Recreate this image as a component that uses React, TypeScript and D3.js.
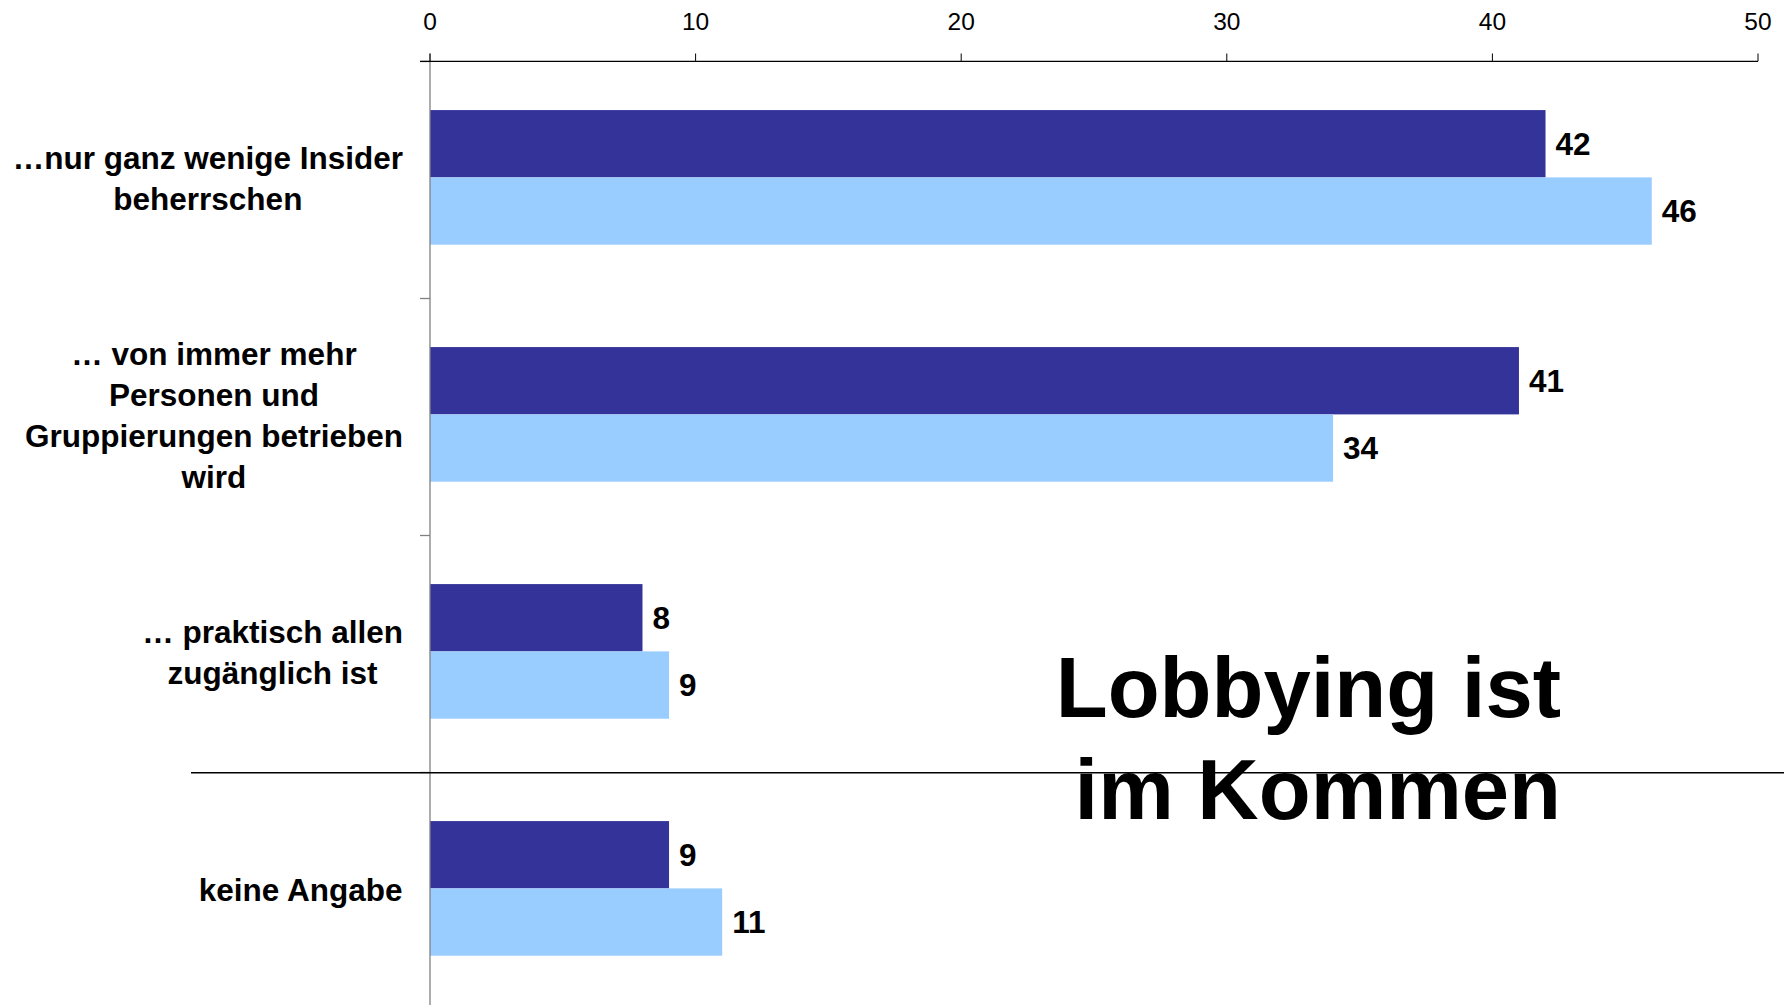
import React from "react";
import * as d3 from "d3";

const categories = ["cat1", "cat2", "cat3", "cat4"];
const categoryLines: string[][] = [
  ["…nur ganz wenige Insider", "beherrschen"],
  ["… von immer mehr", "Personen und", "Gruppierungen betrieben", "wird"],
  ["… praktisch allen", "zugänglich ist"],
  ["keine Angabe"],
];
const seriesNames = ["A", "B"];
const seriesA = [42, 41, 8, 9];
const seriesB = [46, 34, 9, 11];
const xTicks = [0, 10, 20, 30, 40, 50];
const titleLines = ["Lobbying ist", "im Kommen"];

const W = 1784;
const H = 1005;
const FONT = "'Liberation Sans', Arial, Helvetica, sans-serif";
const COLORS = ["#333399", "#99CCFF"];

function measure(text: string, font: string): number {
  const c = document.createElement("canvas");
  const ctx = c.getContext("2d")!;
  ctx.font = font;
  return ctx.measureText(text).width;
}

export default function App() {
  const x = d3.scaleLinear().domain([0, 50]).range([430, 1758]);
  const y = d3.scaleBand<string>().domain(categories).range([61.5, 1009.5]).padding(0);
  const bw = y.bandwidth();
  const sub = d3
    .scaleBand<string>()
    .domain(seriesNames)
    .range([bw * 0.205, bw * 0.773])
    .padding(0);
  const values = [seriesA, seriesB];

  const labelFont = `bold 31.5px ${FONT}`;
  const labelRight = 403;
  const lineGap = 41;
  const axisY = 61.3;

  return (
    <svg
      width={W}
      height={H}
      style={{ position: "absolute", left: 0, top: 0, display: "block", background: "#fff" }}
    >
      {/* bars */}
      {categories.map((c, ci) =>
        seriesNames.map((s, si) => {
          const v = values[si][ci];
          const y0 = (y(c) as number) + (sub(s) as number);
          return (
            <g key={c + s}>
              <rect
                x={x(0)}
                y={y0}
                width={x(v) - x(0)}
                height={sub.bandwidth()}
                fill={COLORS[si]}
              />
              <text
                x={x(v) + 10}
                y={y0 + sub.bandwidth() / 2}
                dy="0.36em"
                fontFamily={FONT}
                fontWeight="bold"
                fontSize={31.5}
                fill="#000"
              >
                {v}
              </text>
            </g>
          );
        })
      )}

      {/* vertical category axis */}
      <line x1={x(0)} x2={x(0)} y1={53.5} y2={H} stroke="#808080" strokeWidth={1.3} />
      {categories.map((c, i) => (
        <line
          key={i}
          x1={x(0) - 10}
          x2={x(0)}
          y1={y(c) as number}
          y2={y(c) as number}
          stroke="#808080"
          strokeWidth={1.3}
        />
      ))}

      {/* top value axis */}
      <line x1={x(0) - 10} x2={x(50)} y1={axisY} y2={axisY} stroke="#000" strokeWidth={1.3} />
      {xTicks.map((t) => (
        <g key={t}>
          <line x1={x(t)} x2={x(t)} y1={53.5} y2={axisY} stroke="#000" strokeWidth={1} />
          <text
            x={x(t)}
            y={29.5}
            textAnchor="middle"
            fontFamily={FONT}
            fontSize={24.5}
            fill="#000"
          >
            {t}
          </text>
        </g>
      ))}

      {/* category labels */}
      {categories.map((c, ci) => {
        const lines = categoryLines[ci];
        const maxW = Math.max(...lines.map((l) => measure(l, labelFont)));
        const cx = labelRight - maxW / 2;
        const cy = (y(c) as number) + bw / 2 - 1.5;
        const start = cy - ((lines.length - 1) * lineGap) / 2;
        return (
          <text
            key={c}
            textAnchor="middle"
            fontFamily={FONT}
            fontWeight="bold"
            fontSize={31.5}
            fill="#000"
          >
            {lines.map((l, li) => (
              <tspan key={li} x={cx} y={start + li * lineGap} dy="0.36em">
                {l}
              </tspan>
            ))}
          </text>
        );
      })}

      {/* title */}
      <text textAnchor="end" fontFamily={FONT} fontWeight="bold" fontSize={85} fill="#000">
        {titleLines.map((l, i) => (
          <tspan key={i} x={1561} y={717 + i * 102}>
            {l}
          </tspan>
        ))}
      </text>

      {/* separator line */}
      <line x1={191} x2={W} y1={772.7} y2={772.7} stroke="#000" strokeWidth={1.6} />
    </svg>
  );
}
